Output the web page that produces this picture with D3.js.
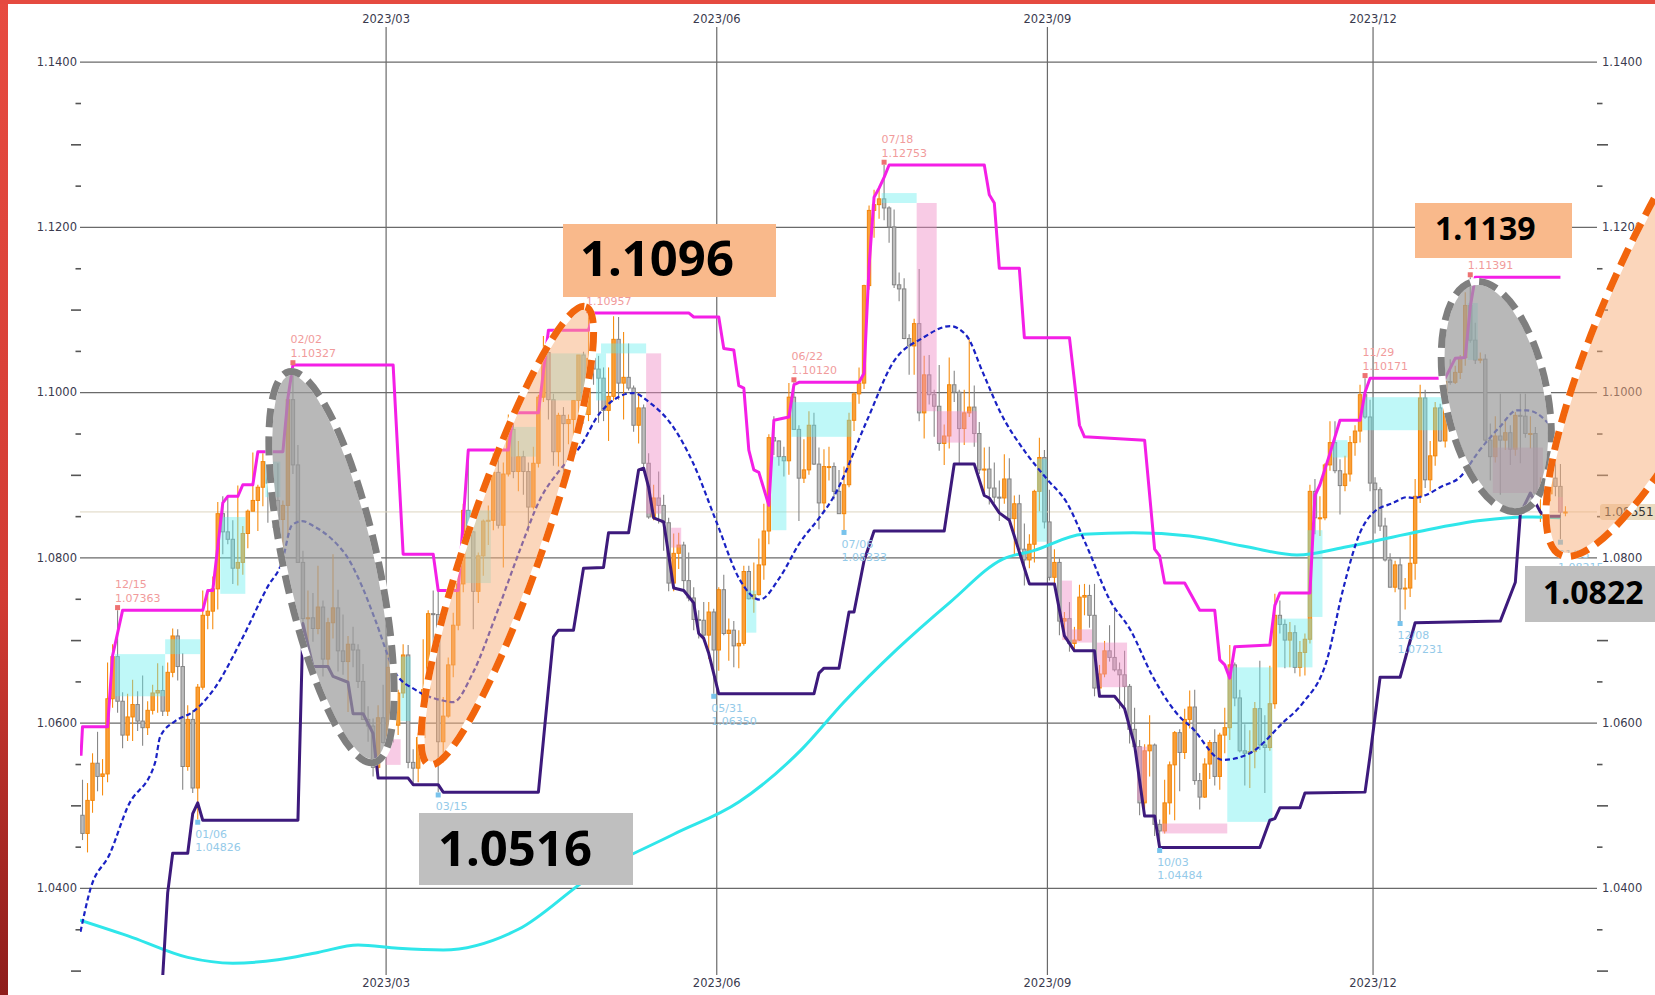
<!DOCTYPE html>
<html>
<head>
<meta charset="utf-8">
<script src="https://cdn.jsdelivr.net/npm/d3@7"></script>
<style>
  body { margin: 0; background: #fff; overflow: hidden; }
  svg { display: block; }
</style>
</head>
<body>
<svg width="1655" height="995"></svg>
<script>
// daily candles [open, high, low, close], first day 2022-12-06, weekdays only
const candles = [
  // 2022/12
  [1.0488,1.0531,1.0458,1.0466],[1.0466,1.0527,1.0443,1.0506],[1.0506,1.0563,1.0491,1.0551],[1.0551,1.0589,1.0517,1.0535],
  [1.0535,1.0556,1.0512,1.0538],[1.0538,1.0673,1.0528,1.0629],[1.0629,1.0695,1.0618,1.0680],[1.0680,1.0736,1.0612,1.0626],[1.0626,1.0637,1.0569,1.0585],
  [1.0585,1.0635,1.0578,1.0607],[1.0607,1.0652,1.0578,1.0622],[1.0622,1.0638,1.0590,1.0602],[1.0602,1.0657,1.0572,1.0594],[1.0594,1.0626,1.0585,1.0615],
  [1.0615,1.0646,1.0610,1.0636],[1.0636,1.0672,1.0612,1.0639],[1.0639,1.0669,1.0608,1.0614],[1.0614,1.0673,1.0608,1.0661],[1.0661,1.0714,1.0655,1.0705],
  // 2023/01
  [1.0705,1.0713,1.0651,1.0668],[1.0668,1.0684,1.0519,1.0547],[1.0547,1.0621,1.0542,1.0604],[1.0604,1.0615,1.0515,1.0521],[1.0521,1.0647,1.0483,1.0643],
  [1.0643,1.0760,1.0640,1.0730],[1.0730,1.0760,1.0713,1.0735],[1.0735,1.0777,1.0713,1.0762],[1.0762,1.0867,1.0737,1.0853],[1.0853,1.0874,1.0804,1.0831],
  [1.0831,1.0873,1.0816,1.0822],[1.0822,1.0845,1.0768,1.0787],[1.0787,1.0887,1.0766,1.0794],[1.0794,1.0838,1.0779,1.0829],[1.0829,1.0858,1.0811,1.0856],
  [1.0856,1.0927,1.0856,1.0869],[1.0869,1.0888,1.0832,1.0885],[1.0885,1.0926,1.0862,1.0916],[1.0916,1.0929,1.0842,1.0890],[1.0890,1.0904,1.0836,1.0869],
  [1.0869,1.0914,1.0836,1.0846],[1.0846,1.0869,1.0801,1.0863],
  // 2023/02
  [1.0863,1.0993,1.0823,1.0991],[1.0991,1.1033,1.0901,1.0912],[1.0912,1.0936,1.0797,1.0794],
  [1.0794,1.0808,1.0710,1.0726],[1.0726,1.0760,1.0669,1.0727],[1.0727,1.0757,1.0698,1.0714],[1.0714,1.0790,1.0707,1.0740],[1.0740,1.0748,1.0656,1.0677],
  [1.0677,1.0727,1.0666,1.0721],[1.0721,1.0804,1.0702,1.0739],[1.0739,1.0761,1.0662,1.0687],[1.0687,1.0731,1.0658,1.0674],[1.0674,1.0705,1.0613,1.0695],
  [1.0695,1.0716,1.0667,1.0688],[1.0688,1.0695,1.0642,1.0650],[1.0650,1.0671,1.0604,1.0604],[1.0604,1.0620,1.0577,1.0596],[1.0596,1.0605,1.0535,1.0546],
  [1.0546,1.0621,1.0533,1.0606],[1.0606,1.0646,1.0575,1.0576],
  // 2023/03
  [1.0576,1.0691,1.0575,1.0667],[1.0667,1.0668,1.0576,1.0597],[1.0597,1.0640,1.0585,1.0636],
  [1.0636,1.0695,1.0630,1.0682],[1.0682,1.0694,1.0545,1.0552],[1.0552,1.0568,1.0524,1.0545],[1.0545,1.0588,1.0528,1.0582],[1.0582,1.0701,1.0560,1.0640],
  [1.0640,1.0736,1.0631,1.0732],[1.0732,1.0760,1.0693,1.0731],[1.0731,1.0760,1.0516,1.0577],[1.0577,1.0631,1.0552,1.0608],[1.0608,1.0679,1.0606,1.0670],
  [1.0670,1.0733,1.0655,1.0718],[1.0718,1.0787,1.0712,1.0768],[1.0768,1.0865,1.0758,1.0857],[1.0857,1.0929,1.0829,1.0831],[1.0831,1.0832,1.0713,1.0759],
  [1.0759,1.0806,1.0745,1.0802],[1.0802,1.0846,1.0778,1.0844],[1.0844,1.0863,1.0815,1.0845],[1.0845,1.0926,1.0833,1.0903],[1.0903,1.0925,1.0835,1.0839],
  // 2023/04
  [1.0839,1.0915,1.0788,1.0901],[1.0901,1.0973,1.0898,1.0955],[1.0955,1.0971,1.0896,1.0904],[1.0904,1.0941,1.0880,1.0922],[1.0922,1.0929,1.0876,1.0904],
  [1.0904,1.0915,1.0831,1.0861],[1.0861,1.0934,1.0858,1.0914],[1.0914,1.0997,1.0909,1.0994],[1.0994,1.1068,1.0988,1.1048],[1.1048,1.1076,1.0967,1.0991],
  [1.0991,1.0998,1.0911,1.0928],[1.0928,1.0975,1.0910,1.0972],[1.0972,1.0982,1.0894,1.0962],[1.0962,1.0973,1.0937,1.0967],[1.0967,1.0990,1.0934,1.0990],
  [1.0990,1.1045,1.0968,1.1045],[1.1045,1.1049,1.0962,1.0973],[1.0973,1.1096,1.0965,1.1041],[1.1041,1.1064,1.1009,1.1028],[1.1028,1.1044,1.0963,1.1017],
  // 2023/05
  [1.1017,1.1030,1.0965,1.0978],[1.0978,1.1030,1.0941,1.0995],[1.0995,1.1092,1.0990,1.1064],[1.1064,1.1091,1.0991,1.1011],[1.1011,1.1073,1.0967,1.1018],
  [1.1018,1.1059,1.1002,1.1005],[1.1005,1.1008,1.0952,1.0960],[1.0960,1.1000,1.0938,1.0981],[1.0981,1.0985,1.0907,1.0914],[1.0914,1.0926,1.0847,1.0849],
  [1.0849,1.0888,1.0845,1.0872],[1.0872,1.0904,1.0841,1.0863],[1.0863,1.0876,1.0808,1.0842],[1.0842,1.0848,1.0759,1.0769],[1.0769,1.0829,1.0759,1.0805],
  [1.0805,1.0830,1.0786,1.0815],[1.0815,1.0819,1.0761,1.0772],[1.0772,1.0806,1.0747,1.0751],[1.0751,1.0764,1.0712,1.0725],[1.0725,1.0736,1.0702,1.0724],
  [1.0724,1.0746,1.0702,1.0706],[1.0706,1.0746,1.0677,1.0734],[1.0734,1.0738,1.0635,1.0688],
  // 2023/06
  [1.0688,1.0764,1.0663,1.0761],[1.0761,1.0779,1.0706,1.0708],
  [1.0708,1.0726,1.0675,1.0712],[1.0712,1.0723,1.0667,1.0693],[1.0693,1.0712,1.0666,1.0696],[1.0696,1.0790,1.0693,1.0783],[1.0783,1.0790,1.0749,1.0750],
  [1.0750,1.0794,1.0733,1.0755],[1.0755,1.0823,1.0754,1.0791],[1.0791,1.0865,1.0773,1.0832],[1.0832,1.0949,1.0816,1.0945],[1.0945,1.0971,1.0924,1.0941],
  [1.0941,1.0942,1.0911,1.0922],[1.0922,1.0934,1.0898,1.0917],[1.0917,1.1011,1.0900,1.0994],[1.0994,1.1012,1.0955,1.0955],[1.0955,1.0960,1.0844,1.0896],
  [1.0896,1.0943,1.0890,1.0906],[1.0906,1.0977,1.0900,1.0960],[1.0960,1.0975,1.0912,1.0913],[1.0913,1.0933,1.0834,1.0866],[1.0866,1.0931,1.0855,1.0910],
  // 2023/07
  [1.0910,1.0934,1.0893,1.0910],[1.0910,1.0915,1.0870,1.0880],[1.0880,1.0906,1.0853,1.0853],[1.0853,1.0910,1.0833,1.0888],[1.0888,1.0975,1.0885,1.0966],
  [1.0966,1.1000,1.0953,1.0998],[1.0998,1.1030,1.0986,1.1011],[1.1011,1.1130,1.1004,1.1129],[1.1129,1.1226,1.1124,1.1220],[1.1220,1.1245,1.1187,1.1227],
  [1.1227,1.1246,1.1210,1.1234],[1.1234,1.1275,1.1208,1.1223],[1.1223,1.1225,1.1181,1.1200],[1.1200,1.1221,1.1126,1.1130],[1.1130,1.1145,1.1110,1.1125],
  [1.1125,1.1138,1.1064,1.1065],[1.1065,1.1070,1.1021,1.1056],[1.1056,1.1089,1.1021,1.1083],[1.1083,1.1149,1.0965,1.0975],[1.0975,1.1044,1.0944,1.1021],
  [1.1021,1.1045,1.0985,1.0997],
  // 2023/08
  [1.0997,1.1003,1.0946,1.0983],[1.0983,1.1033,1.0929,1.0938],[1.0938,1.0961,1.0912,1.0947],[1.0947,1.1042,1.0932,1.1009],
  [1.1009,1.1026,1.0988,1.1000],[1.1000,1.1003,1.0913,1.0956],[1.0956,1.1003,1.0936,1.0975],[1.0975,1.1064,1.0970,1.0982],[1.0982,1.1008,1.0934,1.0950],
  [1.0950,1.0964,1.0901,1.0906],[1.0906,1.0933,1.0878,1.0907],[1.0907,1.0934,1.0864,1.0884],[1.0884,1.0915,1.0866,1.0873],[1.0873,1.0893,1.0844,1.0872],
  [1.0872,1.0925,1.0865,1.0895],[1.0895,1.0920,1.0844,1.0847],[1.0847,1.0875,1.0803,1.0865],[1.0865,1.0876,1.0806,1.0810],[1.0810,1.0841,1.0766,1.0797],
  [1.0797,1.0828,1.0787,1.0816],[1.0816,1.0882,1.0794,1.0880],[1.0880,1.0945,1.0856,1.0921],[1.0921,1.0930,1.0835,1.0843],
  // 2023/09
  [1.0843,1.0882,1.0772,1.0776],
  [1.0776,1.0810,1.0769,1.0794],[1.0794,1.0799,1.0706,1.0723],[1.0723,1.0734,1.0701,1.0726],[1.0726,1.0746,1.0686,1.0696],[1.0696,1.0716,1.0686,1.0700],
  [1.0700,1.0767,1.0699,1.0752],[1.0752,1.0768,1.0730,1.0754],[1.0754,1.0767,1.0715,1.0730],[1.0730,1.0768,1.0632,1.0642],[1.0642,1.0670,1.0631,1.0659],
  [1.0659,1.0699,1.0655,1.0687],[1.0687,1.0718,1.0674,1.0679],[1.0679,1.0737,1.0662,1.0664],[1.0664,1.0673,1.0617,1.0658],[1.0658,1.0687,1.0615,1.0644],
  [1.0644,1.0647,1.0575,1.0592],[1.0592,1.0618,1.0568,1.0571],[1.0571,1.0579,1.0488,1.0503],[1.0503,1.0574,1.0496,1.0566],[1.0566,1.0609,1.0535,1.0573],
  // 2023/10
  [1.0573,1.0575,1.0463,1.0477],[1.0477,1.0483,1.0448,1.0469],[1.0469,1.0531,1.0466,1.0503],[1.0503,1.0553,1.0489,1.0549],[1.0549,1.0590,1.0482,1.0588],
  [1.0588,1.0592,1.0517,1.0564],[1.0564,1.0617,1.0556,1.0604],[1.0604,1.0639,1.0593,1.0619],[1.0619,1.0640,1.0525,1.0530],[1.0530,1.0539,1.0495,1.0510],
  [1.0510,1.0557,1.0509,1.0550],[1.0550,1.0579,1.0532,1.0576],[1.0576,1.0592,1.0524,1.0535],[1.0535,1.0588,1.0519,1.0585],[1.0585,1.0618,1.0563,1.0594],
  [1.0594,1.0694,1.0579,1.0670],[1.0670,1.0673,1.0620,1.0630],[1.0630,1.0640,1.0564,1.0566],[1.0566,1.0598,1.0524,1.0563],[1.0563,1.0591,1.0521,1.0565],
  [1.0565,1.0625,1.0545,1.0617],[1.0617,1.0675,1.0567,1.0573],
  // 2023/11
  [1.0573,1.0609,1.0515,1.0570],[1.0570,1.0669,1.0566,1.0623],[1.0623,1.0756,1.0617,1.0730],
  [1.0730,1.0748,1.0708,1.0719],[1.0719,1.0725,1.0666,1.0700],[1.0700,1.0722,1.0667,1.0709],[1.0709,1.0718,1.0660,1.0667],[1.0667,1.0699,1.0656,1.0685],
  [1.0685,1.0708,1.0657,1.0701],[1.0701,1.0888,1.0696,1.0880],[1.0880,1.0895,1.0828,1.0848],[1.0848,1.0874,1.0826,1.0848],[1.0848,1.0914,1.0845,1.0912],
  [1.0912,1.0965,1.0905,1.0939],[1.0939,1.0965,1.0902,1.0905],[1.0905,1.0919,1.0852,1.0887],[1.0887,1.0923,1.0880,1.0901],[1.0901,1.0947,1.0892,1.0939],
  [1.0939,1.0960,1.0923,1.0953],[1.0953,1.1009,1.0939,1.0997],[1.0997,1.1017,1.0968,1.0970],[1.0970,1.0991,1.0880,1.0890],
  // 2023/12
  [1.0890,1.0897,1.0829,1.0882],
  [1.0882,1.0885,1.0832,1.0838],[1.0838,1.0848,1.0795,1.0797],[1.0797,1.0805,1.0764,1.0764],[1.0764,1.0796,1.0758,1.0791],[1.0791,1.0800,1.0723,1.0762],
  [1.0762,1.0775,1.0737,1.0763],[1.0763,1.0827,1.0752,1.0793],[1.0793,1.0895,1.0773,1.0874],[1.0874,1.1009,1.0866,1.0993],[1.0993,1.1003,1.0884,1.0894],
  [1.0894,1.0941,1.0880,1.0923],[1.0923,1.0988,1.0911,1.0981],[1.0981,1.0986,1.0940,1.0941],[1.0941,1.1014,1.0933,1.1013],[1.1013,1.1040,1.1009,1.1012],
  [1.1012,1.1032,1.1010,1.1024],[1.1024,1.1045,1.1016,1.1042],[1.1042,1.1121,1.1032,1.1105],[1.1105,1.1139,1.1060,1.1063],[1.1063,1.1084,1.1034,1.1039],
  // 2024/01
  [1.1039,1.1048,1.1035,1.1040],[1.1040,1.1046,1.0940,1.0942],[1.0942,1.0962,1.0893,1.0922],[1.0922,1.0971,1.0915,1.0947],[1.0947,1.0998,1.0876,1.0942],
  [1.0942,1.0968,1.0930,1.0951],[1.0951,1.0960,1.0912,1.0931],[1.0931,1.0976,1.0923,1.0972],[1.0972,1.0998,1.0914,1.0971],[1.0971,1.0998,1.0945,1.0950],
  [1.0950,1.0971,1.0932,1.0950],[1.0950,1.0958,1.0862,1.0878],[1.0878,1.0897,1.0843,1.0883],[1.0883,1.0900,1.0844,1.0877],[1.0877,1.0915,1.0868,1.0896],
  [1.0896,1.0916,1.0874,1.0886],[1.0886,1.0913,1.0822,1.0855],[1.0855,1.0862,1.0850,1.0855]
];

// channel / average lines: [day index, price]
const upperBand = [[-0.3,1.0560],[0,1.0595],[5,1.0595],[6,1.0681],[8,1.0736],[24,1.0736],[25,1.0760],[26,1.0760],[28,1.0866],[29,1.0874],[31,1.0874],[32,1.0888],[34,1.0888],[35,1.0928],[40,1.0928],[41,1.0993],[42,1.1033],[62,1.1033],[64,1.0804],[70,1.0804],[71,1.0760],[75,1.0760],[77,1.0930],[85,1.0930],[86,1.0975],[91,1.0975],[93,1.1075],[101,1.1075],[102,1.1096],[121,1.1096],[122,1.1091],[127,1.1091],[128,1.1053],[130,1.1051],[131,1.1008],[132,1.1005],[133,1.0930],[134,1.0906],[135,1.0903],[137,1.0863],[138,1.0966],[141,1.0970],[142,1.1009],[143,1.1012],[155,1.1012],[156,1.1023],[157,1.1152],[158,1.1236],[159,1.1247],[160,1.1260],[161,1.1275],[180,1.1275],[181,1.1239],[182,1.1229],[183,1.1150],[187,1.1150],[188,1.1066],[197,1.1066],[199,1.0960],[200,1.0946],[212,1.0942],[214,1.0810],[215,1.0802],[216,1.0769],[220,1.0769],[223,1.0736],[226,1.0736],[227,1.0676],[228,1.0670],[229,1.0654],[230,1.0692],[237,1.0694],[238,1.0742],[239,1.0757],[245,1.0757],[246,1.0875],[247,1.0888],[249,1.0926],[250,1.0946],[251,1.0966],[255,1.0966],[256,1.1000],[257,1.1017],[272,1.1017],[274,1.1041],[276,1.1042],[277,1.1103],[278,1.1139],[295,1.1139]];
const lowerBand = [[16,1.0292],[17,1.0394],[18,1.0442],[21,1.0442],[22,1.0490],[23,1.0503],[24,1.0482],[43,1.0482],[44,1.0720],[46,1.0668],[49,1.0668],[50,1.0656],[53,1.0649],[54,1.0611],[56,1.0611],[58,1.0587],[59,1.0533],[65,1.0533],[66,1.0525],[71,1.0525],[72,1.0516],[91,1.0516],[92,1.0579],[94,1.0704],[95,1.0712],[98,1.0712],[100,1.0787],[104,1.0788],[105,1.0830],[109,1.0830],[111,1.0906],[112,1.0908],[113,1.0885],[114,1.0848],[116,1.0843],[118,1.0763],[120,1.0760],[122,1.0745],[123,1.0708],[124,1.0702],[125,1.0684],[127,1.0635],[146,1.0635],[147,1.0660],[148,1.0666],[151,1.0666],[153,1.0734],[154,1.0734],[156,1.0796],[158,1.0832],[172,1.0832],[174,1.0913],[178,1.0913],[180,1.0875],[181,1.0872],[183,1.0854],[185,1.0845],[189,1.0768],[194,1.0768],[196,1.0705],[198,1.0687],[202,1.0687],[203,1.0632],[206,1.0632],[208,1.0617],[210,1.0573],[212,1.0487],[214,1.0487],[215,1.0449],[235,1.0449],[237,1.0482],[238,1.0484],[239,1.0497],[243,1.0497],[244,1.0515],[256,1.0516],[257,1.0560],[259,1.0655],[263,1.0655],[266,1.0721],[283,1.0723],[286,1.0770],[287,1.0853],[289,1.0878],[291,1.0855],[292,1.0850],[295,1.0850]];
const shortMA = [[-0.4,1.0347],[1.5,1.0397],[5.5,1.0442],[9,1.0498],[14.5,1.0552],[15.5,1.0583],[18.5,1.0602],[22,1.0613],[26.4,1.0642],[31.8,1.0701],[37,1.0765],[39.8,1.0794],[41.8,1.0839],[43.8,1.0844],[46.4,1.0837],[49.8,1.0822],[53,1.0799],[55.8,1.0765],[58.4,1.0725],[62.4,1.0661],[66.4,1.0640],[71.8,1.0627],[74,1.0625],[77.9,1.0660],[82.7,1.0733],[87.3,1.0809],[91.3,1.0870],[95.3,1.0906],[99.3,1.0934],[103.3,1.0975],[109.9,1.0999],[113.3,1.0987],[117.9,1.0958],[121.9,1.0914],[126.6,1.0842],[131.2,1.0773],[135.2,1.0749],[139.2,1.0776],[143.2,1.0818],[147.2,1.0849],[149.8,1.0872],[156.6,1.0966],[161.8,1.1036],[167.8,1.1066],[173.2,1.1080],[176.5,1.1068],[179.7,1.1024],[183.1,1.0977],[188.5,1.0925],[192.5,1.0895],[196.5,1.0866],[200.5,1.0813],[205.1,1.0748],[209.1,1.0713],[213.7,1.0655],[219.7,1.0603],[221.1,1.0596],[227.6,1.0555],[233,1.0563],[239.6,1.0600],[243.6,1.0624],[248.4,1.0676],[251.6,1.0761],[255,1.0830],[257.6,1.0854],[261.6,1.0866],[264.4,1.0873],[265.6,1.0872],[268.3,1.0876],[271,1.0885],[274.9,1.0897],[278.9,1.0930],[282.9,1.0958],[286.3,1.0978],[288.3,1.0978],[292.3,1.0964],[294.9,1.0942]];
const longMA = [[-0.5,1.0361],[10,1.0340],[21,1.0316],[30,1.0309],[39,1.0313],[47,1.0322],[55,1.0331],[63,1.0327],[72,1.0325],[87,1.0350],[101.5,1.0414],[118,1.0465],[131,1.0504],[143.6,1.0568],[152,1.0625],[162.6,1.0689],[173.2,1.0746],[183.7,1.0798],[189.7,1.0808],[199.7,1.0828],[209.7,1.0830],[221,1.0826],[232.4,1.0813],[242.4,1.0803],[252.4,1.0813],[265.6,1.0830],[279.5,1.0845],[289.5,1.0849],[295,1.0848]];

// zones: [first day, last day, top, bottom]
const cyanZones = [[7,16,1.0683,1.0632],[17,23,1.0701,1.0683],[28,32,1.0849,1.0756],[37,39,1.0916,1.0873],[64,65,1.0680,1.0602],[77,81,1.0857,1.0769],[86,90,1.0958,1.0922],[94,100,1.1047,1.0990],[103,104,1.1047,1.0990],[104,112,1.1059,1.1047],[133,134,1.0760,1.0709],[138,140,1.0922,1.0833],[142,153,1.0988,1.0946],[160,166,1.1241,1.1229],[191,192,1.0919,1.0819],[229,237,1.0667,1.0480],[239,245,1.0726,1.0667],[245,247,1.0833,1.0728],[250,252,1.0942,1.0921],[256,271,1.0994,1.0954],[277,278,1.1108,1.1039]];
const pinkZones = [[61,63,1.0580,1.0549],[113,115,1.1047,1.0853],[118,119,1.0836,1.0812],[167,170,1.1229,1.0977],[171,178,1.0977,1.0939],[196,197,1.0772,1.0700],[198,201,1.0713,1.0697],[203,208,1.0697,1.0643],[211,212,1.0571,1.0506],[216,228,1.0478,1.0466],[282,291,1.0933,1.0878],[295,295,1.0873,1.0854]];

const highMarks = [['2022-12-15',1.07363],['2023-02-02',1.10327],['2023-04-26',1.10957],['2023-06-22',1.10120],['2023-07-18',1.12753],['2023-11-29',1.10171],['2023-12-28',1.11391]];
const lowMarks = [['2023-01-06',1.04826],['2023-03-15',1.05156],['2023-05-31',1.06350],['2023-07-06',1.08333],['2023-10-03',1.04484],['2023-12-08',1.07231],['2024-01-23',1.08215]];

const priceTicks = [1.04, 1.06, 1.08, 1.10, 1.12, 1.14];
const monthLabels = ['2023/03', '2023/06', '2023/09', '2023/12'];
const lastPrice = 1.08551;

//==========================================================================

const W = 1655, H = 995;
const pL = 80, pR = 1597, pT = 27, pB = 975;

// trading-day calendar (weekdays) for the candles
const fmtDay = d3.utcFormat('%Y-%m-%d');
const tradingDays = [];
for (let d = new Date(Date.UTC(2022, 11, 6)); tradingDays.length < candles.length; d = d3.utcDay.offset(d, 1)) {
  const wd = d.getUTCDay();
  if (wd !== 0 && wd !== 6) tradingDays.push(fmtDay(d));
}
const dayIndex = new Map(tradingDays.map((s, i) => [s, i]));
const monthTicks = monthLabels.map(m => tradingDays.findIndex(s => s.startsWith(m.replace('/', '-'))) - 0.5);

const x = d3.scaleLinear().domain([-0.5, 302.3]).range([pL, pR]);
const y = d3.scaleLinear().domain([1.03, 1.14]).range([970.6, 61.7]);

const svg = d3.select('svg');
const defs = svg.append('defs');
defs.append('clipPath').attr('id', 'plot')
  .append('rect').attr('x', pL).attr('y', pT).attr('width', pR - pL).attr('height', pB - pT);
const grad = defs.append('linearGradient').attr('id', 'frame').attr('x1', 0).attr('y1', 0).attr('x2', 0).attr('y2', 1);
grad.append('stop').attr('offset', '0%').attr('stop-color', '#e74b40');
grad.append('stop').attr('offset', '60%').attr('stop-color', '#d23b33');
grad.append('stop').attr('offset', '100%').attr('stop-color', '#8e1d1b');

svg.append('rect').attr('width', W).attr('height', H).attr('fill', '#ffffff');

// grid + axes
const axisFont = g => g.attr('font-family', 'DejaVu Sans').attr('font-size', 11.5);

const gy = svg.append('g').attr('transform', `translate(${pL},0)`)
  .call(d3.axisLeft(y).tickValues(priceTicks).tickSize(-(pR - pL)).tickPadding(3).tickFormat(d3.format('.4f')))
  .call(axisFont);
gy.select('.domain').remove();
gy.selectAll('line').attr('stroke', '#6a6a6a').attr('stroke-width', 1.2);
gy.selectAll('text').attr('fill', '#3a3a4e');

const gyR = svg.append('g').attr('transform', `translate(${pR},0)`)
  .call(d3.axisRight(y).tickValues(priceTicks).tickSize(0).tickPadding(5).tickFormat(d3.format('.4f')))
  .call(axisFont);
gyR.select('.domain').remove();
gyR.selectAll('text').attr('fill', '#3a3a4e');

const minor = d3.range(0, 22).map(k => +(1.03 + k * 0.005).toFixed(3)).filter(v => !priceTicks.includes(v));
const minorLong = minor.filter(v => Math.round(v * 1000) % 10 === 0);
const minorShort = minor.filter(v => Math.round(v * 1000) % 10 !== 0);
[[d3.axisLeft, pL + 1, 10, 5.5], [d3.axisRight, pR, 11, 5.5]].forEach(([ax, pos, longLen, shortLen]) => {
  [[minorLong, longLen], [minorShort, shortLen]].forEach(([vals, len]) => {
    const g = svg.append('g').attr('transform', `translate(${pos},0)`)
      .call(ax(y).tickValues(vals).tickSize(len).tickFormat(''));
    g.select('.domain').remove();
    g.selectAll('line').attr('stroke', '#555').attr('stroke-width', 1.6);
  });
});

const gx = svg.append('g').attr('transform', `translate(0,${pB})`)
  .call(d3.axisBottom(x).tickValues(monthTicks).tickSize(-(pB - pT)).tickPadding(4).tickFormat((d, i) => monthLabels[i]))
  .call(axisFont);
gx.select('.domain').remove();
gx.selectAll('line').attr('stroke', '#6a6a6a').attr('stroke-width', 1.2);
gx.selectAll('text').attr('fill', '#3a3a4e');

const gxT = svg.append('g').attr('transform', `translate(0,${pT})`)
  .call(d3.axisTop(x).tickValues(monthTicks).tickSize(0).tickPadding(4).tickFormat((d, i) => monthLabels[i]))
  .call(axisFont);
gxT.select('.domain').remove();
gxT.selectAll('text').attr('fill', '#3a3a4e');

const plot = svg.append('g').attr('clip-path', 'url(#plot)');

// last price line
plot.append('line')
  .attr('x1', pL).attr('x2', pR).attr('y1', y(lastPrice)).attr('y2', y(lastPrice))
  .attr('stroke', '#ddd5c0').attr('stroke-width', 1);

// candles
const cw = 3.4;
const up = d => d[3] >= d[0];
const candle = plot.append('g').selectAll('g').data(candles).join('g');
candle.append('line')
  .attr('x1', (d, i) => x(i)).attr('x2', (d, i) => x(i))
  .attr('y1', d => y(d[1])).attr('y2', d => y(d[2]))
  .attr('stroke', d => up(d) ? '#f68d12' : '#878787').attr('stroke-width', 1.1);
candle.append('rect')
  .attr('x', (d, i) => x(i) - cw / 2)
  .attr('y', d => y(Math.max(d[0], d[3])))
  .attr('width', cw)
  .attr('height', d => Math.max(1, Math.abs(y(d[0]) - y(d[3]))))
  .attr('fill', d => up(d) ? '#fa9f38' : '#bdbdbd')
  .attr('stroke', d => up(d) ? '#f3860a' : '#858585').attr('stroke-width', 1);

// zones
const zone = (data, color, op) => plot.append('g').selectAll('rect').data(data).join('rect')
  .attr('x', d => x(d[0] - 0.5)).attr('width', d => x(d[1] + 0.5) - x(d[0] - 0.5))
  .attr('y', d => y(d[2])).attr('height', d => y(d[3]) - y(d[2]))
  .attr('fill', color).attr('opacity', op);
zone(cyanZones, '#5eeeee', 0.4);
zone(pinkZones, '#f08cc6', 0.45);

// lines
const line = curve => d3.line().x(d => x(d[0])).y(d => y(d[1])).curve(curve);
plot.append('path').attr('d', line(d3.curveMonotoneX)(longMA))
  .attr('fill', 'none').attr('stroke', '#2fe6ea').attr('stroke-width', 3);
plot.append('path').attr('d', line(d3.curveMonotoneX)(shortMA))
  .attr('fill', 'none').attr('stroke', '#1a22c4').attr('stroke-width', 2.2).attr('stroke-dasharray', '5,3');
plot.append('path').attr('d', line(d3.curveLinear)(lowerBand))
  .attr('fill', 'none').attr('stroke', '#3d1a7c').attr('stroke-width', 3).attr('stroke-linejoin', 'round');
plot.append('path').attr('d', line(d3.curveLinear)(upperBand))
  .attr('fill', 'none').attr('stroke', '#f41fe6').attr('stroke-width', 3).attr('stroke-linejoin', 'round');

// high / low marks
const markLabel = s => s.slice(5).replace('-', '/');
const marks = svg.append('g').attr('font-family', 'DejaVu Sans').attr('font-size', 11);
highMarks.forEach(([dt, p]) => {
  const mx = x(dayIndex.get(dt)), my = y(p);
  marks.append('rect').attr('x', mx - 2.5).attr('y', my - 5).attr('width', 5).attr('height', 5).attr('fill', '#ee7272');
  marks.append('text').attr('x', mx - 2.5).attr('y', my - 22).attr('fill', '#f19b9b').text(markLabel(dt));
  marks.append('text').attr('x', mx - 2.5).attr('y', my - 8).attr('fill', '#f19b9b').text(p.toFixed(5));
});
lowMarks.forEach(([dt, p]) => {
  const mx = x(dayIndex.get(dt)), my = y(p);
  marks.append('rect').attr('x', mx - 2.5).attr('y', my).attr('width', 5).attr('height', 5).attr('fill', '#78c3ec');
  marks.append('text').attr('x', mx - 2.5).attr('y', my + 18).attr('fill', '#94cae9').text(markLabel(dt));
  marks.append('text').attr('x', mx - 2.5).attr('y', my + 31.5).attr('fill', '#94cae9').text(p.toFixed(5));
});

// last price tag
const tag = svg.append('g').attr('transform', `translate(${pR + 3},${y(lastPrice)})`);
tag.append('rect').attr('x', 0).attr('y', -8).attr('width', 60).attr('height', 16).attr('rx', 3).attr('fill', '#eadbc0');
tag.append('text').attr('x', 4).attr('y', 4).attr('font-family', 'DejaVu Sans').attr('font-size', 12)
  .attr('fill', '#333').text(lastPrice.toFixed(5));

// highlight ellipses (center in chart units)
const ellipses = [
  { i: 49.7, p: 1.07883, rx: 200, ry: 47, rot: 77.7, fill: '#9c9c9c', fo: 0.72, stroke: '#7f7f7f' },
  { i: 282.2, p: 1.09947, rx: 117, ry: 51, rot: 78.6, fill: '#9c9c9c', fo: 0.72, stroke: '#7f7f7f' },
  { i: 84.8, p: 1.08264, rx: 242, ry: 38, rot: -71.1, fill: '#f7ad78', fo: 0.5, stroke: '#f2650c' },
  { i: 319.5, p: 1.11212, rx: 290, ry: 68, rot: -65, fill: '#f7ad78', fo: 0.5, stroke: '#f2650c' }
];
ellipses.forEach(e => {
  const g = svg.append('g').attr('transform', `translate(${x(e.i)},${y(e.p)}) rotate(${e.rot})`);
  g.append('ellipse').attr('rx', e.rx).attr('ry', e.ry)
    .attr('fill', e.fill).attr('fill-opacity', e.fo)
    .attr('stroke', '#fff').attr('stroke-width', 7);
  g.append('ellipse').attr('rx', e.rx).attr('ry', e.ry)
    .attr('fill', 'none').attr('stroke', e.stroke).attr('stroke-width', 7)
    .attr('stroke-dasharray', '19,9');
});

// callout boxes
const callouts = [
  { text: '1.1096', x: 563, y: 224, w: 213, h: 73, fill: '#f9b98b', size: 49, tx: 580, ty: 276 },
  { text: '1.0516', x: 419, y: 813, w: 214, h: 72, fill: '#bfbfbf', size: 49, tx: 438, ty: 866 },
  { text: '1.1139', x: 1415, y: 203, w: 157, h: 55, fill: '#f9b98b', size: 32, tx: 1435, ty: 240 },
  { text: '1.0822', x: 1525, y: 566, w: 140, h: 56, fill: '#bfbfbf', size: 32, tx: 1543, ty: 604 }
];
callouts.forEach(c => {
  svg.append('rect').attr('x', c.x).attr('y', c.y).attr('width', c.w).attr('height', c.h).attr('fill', c.fill);
  svg.append('text').attr('x', c.tx).attr('y', c.ty)
    .attr('font-family', 'Noto Sans').attr('font-weight', 'bold').attr('font-size', c.size)
    .attr('fill', '#000').text(c.text);
});

// mark labels that sit completely under a callout box are not visible: drop them
marks.selectAll('text').each(function () {
  const b = this.getBBox();
  const covered = callouts.some(c => b.x >= c.x && b.x + b.width <= c.x + c.w && b.y >= c.y && b.y + b.height <= c.y + c.h + 2);
  if (covered) d3.select(this).remove();
});

// frame
svg.append('rect').attr('x', 0).attr('y', 0).attr('width', 8).attr('height', H).attr('fill', 'url(#frame)');
svg.append('rect').attr('x', 0).attr('y', 0).attr('width', W).attr('height', 4).attr('fill', '#e54a40');
</script>
</body>
</html>
